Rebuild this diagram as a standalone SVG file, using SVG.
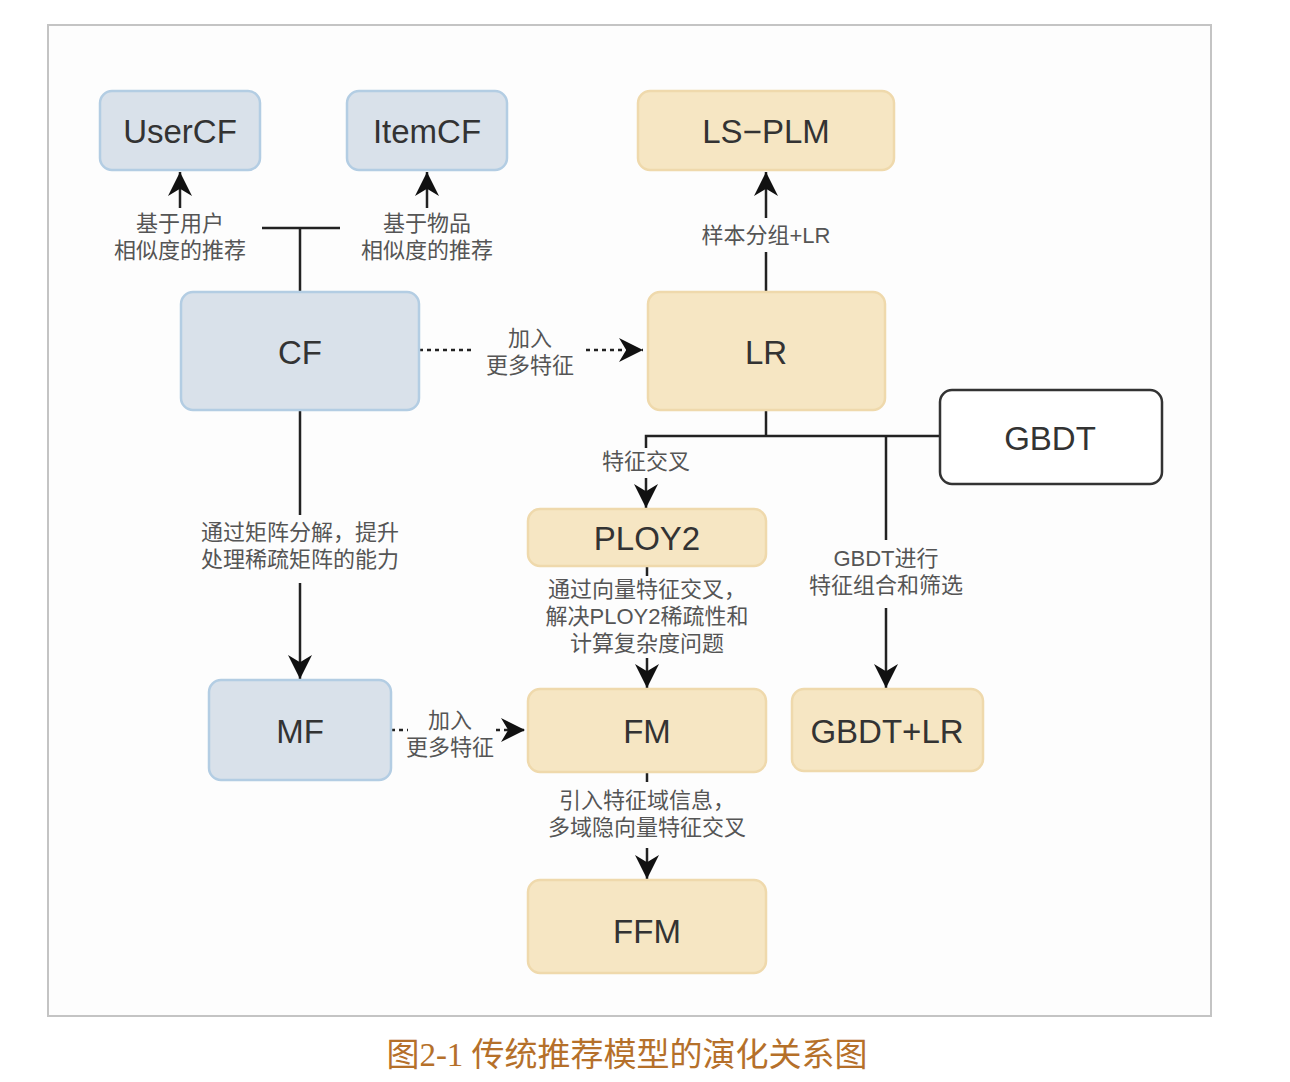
<svg xmlns="http://www.w3.org/2000/svg" width="1290" height="1082" viewBox="0 0 1290 1082">
<defs>
<style>
.blue{fill:#d9e1ea;stroke:#b3cde3;stroke-width:2.5}
.yel{fill:#f6e6c3;stroke:#efd9ac;stroke-width:2.5}
.wht{fill:#ffffff;stroke:#333333;stroke-width:2.5}
.nt{font-family:"Liberation Sans","Noto Sans",Arial,sans-serif;font-size:33px;fill:#333333;text-anchor:middle}
.lb{font-family:"Liberation Sans","Noto Sans CJK SC",sans-serif;font-size:22px;fill:#555555;text-anchor:middle}
.ln{fill:none;stroke:#222222;stroke-width:2.5}
.dt{fill:none;stroke:#222222;stroke-width:2.5;stroke-dasharray:4 4}
</style>
<marker id="ahb" viewBox="0 0 10 10" refX="10" refY="5" markerWidth="24" markerHeight="24" markerUnits="userSpaceOnUse" orient="auto">
<path d="M0,0 L10,5 L0,10 L3,5 Z" fill="#111111"/>
</marker>
</defs>
<rect x="0" y="0" width="1290" height="1082" fill="#ffffff"/>
<rect x="48" y="25" width="1163" height="991" fill="#fdfdfd" stroke="#c4c4c4" stroke-width="2"/>

<g id="connectors">
<path class="ln" d="M300,292 V228"/>
<path class="ln" d="M262,228 H340"/>
<path class="ln" d="M180,208 V172" marker-end="url(#ahb)"/>
<path class="ln" d="M427,208 V172" marker-end="url(#ahb)"/>
<path class="ln" d="M766,292 V252"/>
<path class="ln" d="M766,218 V172" marker-end="url(#ahb)"/>
<path class="dt" d="M419,350 H472"/>
<path class="dt" d="M586,350 H643" marker-end="url(#ahb)"/>
<path class="ln" d="M300,410 V515"/>
<path class="ln" d="M300,583 V679" marker-end="url(#ahb)"/>
<path class="ln" d="M766,410 V436"/>
<path class="ln" d="M646,448 V436 H940"/>
<path class="ln" d="M646,478 V508" marker-end="url(#ahb)"/>
<path class="ln" d="M886,436 V540"/>
<path class="ln" d="M886,608 V688" marker-end="url(#ahb)"/>
<path class="ln" d="M647,566 V576"/>
<path class="ln" d="M647,658 V688" marker-end="url(#ahb)"/>
<path class="dt" d="M391,730 H408"/>
<path class="dt" d="M496,730 H525" marker-end="url(#ahb)"/>
<path class="ln" d="M647,772 V782"/>
<path class="ln" d="M647,848 V879" marker-end="url(#ahb)"/>
</g>

<g id="labels">
<text class="lb" x="180" y="231">基于用户</text>
<text class="lb" x="180" y="258">相似度的推荐</text>
<text class="lb" x="427" y="231">基于物品</text>
<text class="lb" x="427" y="258">相似度的推荐</text>
<text class="lb" x="766" y="243">样本分组+LR</text>
<text class="lb" x="530" y="346">加入</text>
<text class="lb" x="530" y="373">更多特征</text>
<text class="lb" x="646" y="469">特征交叉</text>
<text class="lb" x="300" y="540">通过矩阵分解，提升</text>
<text class="lb" x="300" y="567">处理稀疏矩阵的能力</text>
<text class="lb" x="886" y="566">GBDT进行</text>
<text class="lb" x="886" y="593">特征组合和筛选</text>
<text class="lb" x="647" y="597">通过向量特征交叉，</text>
<text class="lb" x="647" y="624">解决PLOY2稀疏性和</text>
<text class="lb" x="647" y="651">计算复杂度问题</text>
<text class="lb" x="450" y="728">加入</text>
<text class="lb" x="450" y="755">更多特征</text>
<text class="lb" x="647" y="808">引入特征域信息，</text>
<text class="lb" x="647" y="835">多域隐向量特征交叉</text>
</g>

<g id="UserCF"><rect class="blue" x="100" y="91" width="160" height="79" rx="12"/><text class="nt" x="180" y="143">UserCF</text></g>
<g id="ItemCF"><rect class="blue" x="347" y="91" width="160" height="79" rx="12"/><text class="nt" x="427" y="143">ItemCF</text></g>
<g id="LS-PLM"><rect class="yel" x="638" y="91" width="256" height="79" rx="12"/><text class="nt" x="766" y="143">LS−PLM</text></g>
<g id="CF"><rect class="blue" x="181" y="292" width="238" height="118" rx="12"/><text class="nt" x="300" y="364">CF</text></g>
<g id="LR"><rect class="yel" x="648" y="292" width="237" height="118" rx="12"/><text class="nt" x="766" y="364">LR</text></g>
<g id="GBDT"><rect class="wht" x="940" y="390" width="222" height="94" rx="12"/><text class="nt" x="1050" y="450">GBDT</text></g>
<g id="PLOY2"><rect class="yel" x="528" y="509" width="238" height="57" rx="12"/><text class="nt" x="647" y="550">PLOY2</text></g>
<g id="MF"><rect class="blue" x="209" y="680" width="182" height="100" rx="12"/><text class="nt" x="300" y="743">MF</text></g>
<g id="FM"><rect class="yel" x="528" y="689" width="238" height="83" rx="12"/><text class="nt" x="647" y="743">FM</text></g>
<g id="GBDT+LR"><rect class="yel" x="792" y="689" width="191" height="82" rx="12"/><text class="nt" x="887" y="743">GBDT+LR</text></g>
<g id="FFM"><rect class="yel" x="528" y="880" width="238" height="93" rx="12"/><text class="nt" x="647" y="943">FFM</text></g>

<text x="627" y="1066" font-family="'Liberation Serif','Noto Sans CJK SC',serif" font-size="33" fill="#b5702a" text-anchor="middle">图2-1 传统推荐模型的演化关系图</text>
</svg>
